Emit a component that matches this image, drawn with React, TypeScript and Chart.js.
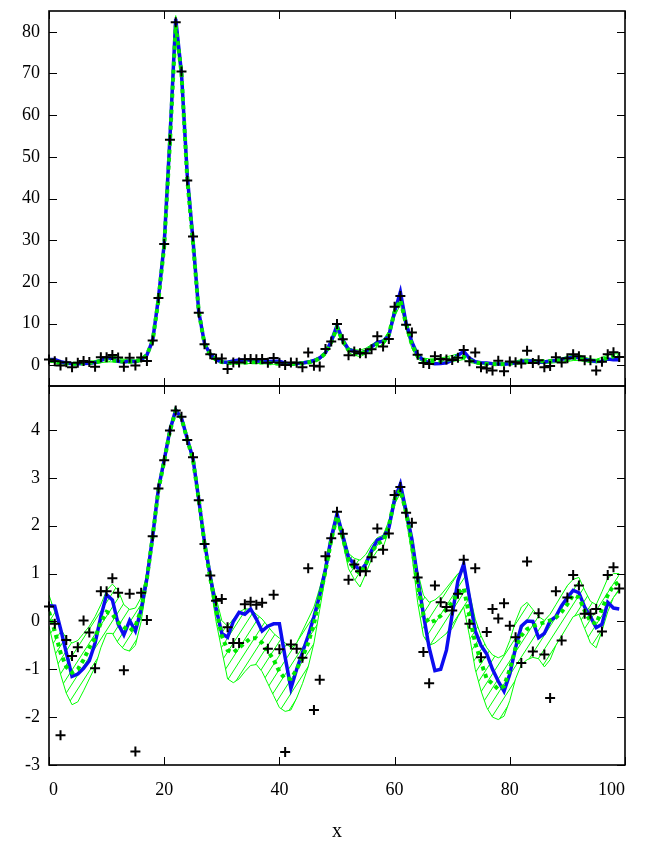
import React, { useEffect, useRef } from "react";
import { Chart, registerables } from "chart.js";
Chart.register(...registerables);

// ---------- data ----------
const X = [0,1,2,3,4,5,6,7,8,9,10,11,12,13,14,15,16,17,18,19,20,21,22,23,24,25,26,27,28,29,30,31,32,33,34,35,36,37,38,39,40,41,42,43,44,45,46,47,48,49,50,51,52,53,54,55,56,57,58,59,60,61,62,63,64,65,66,67,68,69,70,71,72,73,74,75,76,77,78,79,80,81,82,83,84,85,86,87,88,89,90,91,92,93,94,95,96,97,98,99];
const X_TICKS = [0, 20, 40, 60, 80, 100];
const TOP_Y_TICKS = [0, 10, 20, 30, 40, 50, 60, 70, 80];
const BOT_Y_TICKS = [-3, -2, -1, 0, 1, 2, 3, 4];

// top panel (linear)
const TOP_POINTS = [1.36,0.95,-0.09,0.68,-0.49,0.58,1.02,0.79,-0.38,1.88, 1.88,2.46,1.82,-0.36,1.79,-0.07,1.82,1.03,5.93,16.1, 29.1,54.1,82.3,70.5,44.3,30.9,12.6,5.05,2.61,1.54, 1.6,-0.89,0.64,0.64,1.43,1.51,1.42,1.48,0.57,1.75, 0.56,0.07,0.62,0.57,-0.47,3.03,-0.16,-0.3,3.9,5.7, 9.87,6.23,2.39,3.29,2.86,2.86,3.82,6.96,4.48,6.3, 14.0,16.6,9.68,7.85,2.51,0.53,0.28,2.12,1.49,1.35, 1.26,1.79,3.63,0.95,3.03,-0.47,-0.8,-1.3,1.06,-1.46, 0.91,0.72,0.42,3.49,0.53,1.19,-0.5,-0.2,1.88,0.67, 1.65,2.64,2.12,1.17,1.17,-1.3,0.81,2.64,3.1,1.99];
const TOP_BLUE = [1.39,1.38,0.86,0.52,0.32,0.33,0.38,0.44,0.64,1.11, 1.75,1.57,0.95,0.76,1.02,0.82,1.28,2.46,5.93,16.1, 29.1,54.6,83.1,70.1,45.6,30.0,12.8,5.21,2.59,1.31, 0.78,0.72,1.0,1.21,1.16,1.3,1.05,0.82,0.9,0.95, 0.95,0.47,0.25,0.37,0.52,0.74,1.11,1.73,3.0,5.75, 9.49,6.05,3.78,3.32,2.86,3.32,4.39,5.47,5.75,7.03, 12.8,17.6,9.97,5.58,2.46,1.16,0.58,0.36,0.37,0.55, 1.16,2.34,3.32,1.65,0.82,0.61,0.51,0.37,0.29,0.23, 0.33,0.58,0.9,1.01,1.0,0.71,0.78,1.01,1.11,1.39, 1.65,1.92,1.82,1.35,1.11,0.88,0.94,1.49,1.32,1.3];
const TOP_GREEN = [1.22,0.82,0.52,0.39,0.34,0.37,0.45,0.58,0.71,0.97, 1.22,1.16,0.98,0.89,0.82,0.9,1.28,2.46,5.93,15.6, 28.5,53.5,81.5,70.1,44.7,29.4,12.8,5.05,2.46,1.28, 0.74,0.55,0.52,0.58,0.64,0.7,0.7,0.64,0.54,0.45, 0.35,0.3,0.3,0.37,0.47,0.64,0.95,1.65,2.86,5.47, 9.03,5.75,3.6,3.0,2.72,3.32,4.26,5.05,5.37,7.39, 12.8,15.6,9.78,4.95,2.12,1.16,0.97,1.02,1.13,1.28, 1.49,1.82,2.01,1.11,0.64,0.43,0.3,0.27,0.24,0.26, 0.37,0.58,0.74,0.85,0.9,0.94,0.98,1.02,1.08,1.22, 1.43,1.73,1.65,1.25,1.0,0.95,1.28,1.73,2.12,2.29];
const TOP_UPPER = [1.73,1.22,0.86,0.7,0.64,0.67,0.78,0.9,1.11,1.42, 1.92,2.18,1.92,1.42,1.28,1.32,1.65,2.72,6.17,16.4, 30.0,55.7,83.9,72.2,46.5,30.6,13.5,5.47,2.72,1.65, 1.02,0.9,1.05,1.22,1.3,1.3,1.16,1.05,0.9,0.78, 0.7,0.64,0.58,0.64,0.82,1.05,1.35,2.01,3.16,5.93, 9.97,6.36,4.14,3.74,3.6,4.06,4.95,5.75,6.05,8.17, 14.2,16.8,11.0,5.75,2.86,1.73,1.49,1.57,1.73,2.01, 2.34,2.72,2.86,1.82,1.05,0.74,0.58,0.5,0.47,0.5, 0.67,1.0,1.35,1.49,1.28,1.11,1.02,1.16,1.42,1.73, 2.12,2.41,2.51,1.92,1.52,1.42,1.86,2.46,2.72,2.72];
const TOP_LOWER = [0.9,0.55,0.33,0.22,0.18,0.19,0.23,0.3,0.39,0.58, 0.78,0.78,0.64,0.56,0.54,0.61,1.0,2.23,5.7,14.9, 27.1,51.4,79.0,68.0,42.9,27.9,12.2,4.71,2.23,1.0, 0.55,0.3,0.28,0.3,0.35,0.4,0.41,0.35,0.27,0.21, 0.17,0.15,0.16,0.2,0.27,0.39,0.64,1.28,2.59,5.05, 8.17,5.21,3.0,2.41,2.05,2.72,3.67,4.39,4.71,6.69, 11.6,14.6,8.58,4.06,1.49,0.74,0.61,0.64,0.7,0.78, 0.86,1.11,1.35,0.74,0.37,0.23,0.17,0.14,0.13,0.14, 0.19,0.3,0.41,0.45,0.47,0.46,0.39,0.45,0.61,0.74, 0.9,1.11,1.16,0.86,0.64,0.58,0.82,1.22,1.65,1.92];

// bottom panel (log)
const BOT_POINTS = [0.31,-0.05,-2.38,-0.39,-0.72,-0.54,0.02,-0.23,-0.98,0.63, 0.63,0.9,0.6,-1.02,0.58,-2.72,0.6,0.03,1.78,2.78, 3.37,3.99,4.41,4.28,3.79,3.43,2.53,1.62,0.96,0.43, 0.47,-0.12,-0.45,-0.45,0.36,0.41,0.35,0.39,-0.57,0.56, -0.58,-2.73,-0.48,-0.57,-0.76,1.11,-1.85,-1.22,1.36,1.74, 2.29,1.83,0.87,1.19,1.05,1.05,1.34,1.94,1.5,1.84, 2.64,2.81,2.27,2.06,0.92,-0.64,-1.29,0.75,0.4,0.3, 0.23,0.58,1.29,-0.05,1.11,-0.75,-0.22,0.26,0.06,0.38, -0.09,-0.33,-0.87,1.25,-0.63,0.17,-0.69,-1.6,0.63,-0.4, 0.5,0.97,0.75,0.16,0.16,0.26,-0.21,0.97,1.13,0.69];
const BOT_BLUE = [0.33,0.32,-0.15,-0.65,-1.15,-1.1,-0.98,-0.82,-0.45,0.1, 0.56,0.45,-0.05,-0.28,0.02,-0.2,0.25,0.9,1.78,2.78, 3.37,4.0,4.42,4.25,3.82,3.4,2.55,1.65,0.95,0.27, -0.25,-0.33,0.0,0.19,0.15,0.26,0.05,-0.2,-0.1,-0.05, -0.05,-0.75,-1.4,-1.0,-0.65,-0.3,0.1,0.55,1.1,1.75, 2.25,1.8,1.33,1.2,1.05,1.2,1.48,1.7,1.75,1.95, 2.55,2.87,2.3,1.72,0.9,0.15,-0.55,-1.03,-1.0,-0.6, 0.15,0.85,1.2,0.5,-0.2,-0.5,-0.68,-1.0,-1.25,-1.46, -1.1,-0.55,-0.1,0.01,0.0,-0.34,-0.25,0.01,0.1,0.33, 0.5,0.65,0.6,0.3,0.1,-0.13,-0.06,0.4,0.28,0.26];
const BOT_GREEN = [0.2,-0.2,-0.65,-0.95,-1.07,-1.0,-0.8,-0.55,-0.34,-0.03, 0.2,0.15,-0.02,-0.12,-0.2,-0.1,0.25,0.9,1.78,2.75, 3.35,3.98,4.4,4.25,3.8,3.38,2.55,1.62,0.9,0.25, -0.3,-0.6,-0.65,-0.55,-0.45,-0.35,-0.35,-0.45,-0.62,-0.8, -1.05,-1.2,-1.2,-1.0,-0.75,-0.45,-0.05,0.5,1.05,1.7, 2.2,1.75,1.28,1.1,1.0,1.2,1.45,1.62,1.68,2.0, 2.55,2.75,2.28,1.6,0.75,0.15,-0.03,0.02,0.12,0.25, 0.4,0.6,0.7,0.1,-0.45,-0.85,-1.2,-1.3,-1.42,-1.35, -1.0,-0.55,-0.3,-0.16,-0.1,-0.06,-0.02,0.02,0.08,0.2, 0.36,0.55,0.5,0.22,0.0,-0.05,0.25,0.55,0.75,0.83];
const BOT_UPPER = [0.55,0.2,-0.15,-0.35,-0.45,-0.4,-0.25,-0.1,0.1,0.35, 0.65,0.78,0.65,0.35,0.25,0.28,0.5,1.0,1.82,2.8, 3.4,4.02,4.43,4.28,3.84,3.42,2.6,1.7,1.0,0.5, 0.02,-0.1,0.05,0.2,0.26,0.26,0.15,0.05,-0.1,-0.25, -0.35,-0.45,-0.55,-0.45,-0.2,0.05,0.3,0.7,1.15,1.78, 2.3,1.85,1.42,1.32,1.28,1.4,1.6,1.75,1.8,2.1, 2.65,2.82,2.4,1.75,1.05,0.55,0.4,0.45,0.55,0.7, 0.85,1.0,1.05,0.6,0.05,-0.3,-0.55,-0.7,-0.76,-0.7, -0.4,0.0,0.3,0.4,0.25,0.1,0.02,0.15,0.35,0.55, 0.75,0.88,0.92,0.65,0.42,0.35,0.62,0.9,1.0,1.0];
const BOT_LOWER = [-0.1,-0.6,-1.1,-1.5,-1.74,-1.68,-1.45,-1.2,-0.95,-0.55, -0.25,-0.25,-0.45,-0.58,-0.62,-0.5,0.0,0.8,1.74,2.7, 3.3,3.94,4.37,4.22,3.76,3.33,2.5,1.55,0.8,0.0, -0.6,-1.2,-1.28,-1.2,-1.05,-0.92,-0.9,-1.05,-1.3,-1.55, -1.8,-1.88,-1.85,-1.6,-1.3,-0.95,-0.45,0.25,0.95,1.62, 2.1,1.65,1.1,0.88,0.72,1.0,1.3,1.48,1.55,1.9, 2.45,2.68,2.15,1.4,0.4,-0.3,-0.5,-0.45,-0.35,-0.25, -0.15,0.1,0.3,-0.3,-1.0,-1.45,-1.8,-2.0,-2.05,-1.98, -1.65,-1.2,-0.9,-0.8,-0.75,-0.78,-0.95,-0.8,-0.5,-0.3, -0.1,0.1,0.15,-0.15,-0.45,-0.55,-0.2,0.2,0.5,0.65];

// ---------- styling ----------
const FONT = "'Liberation Serif', 'DejaVu Serif', serif";
const BLUE = "#0c0cf0";
const GREEN_DOT = "#00e800";
const GREEN_THIN = "#00ff00";

const xy = (ys: number[]) => ys.map((y, i) => ({ x: X[i], y }));

function makeHatch(): CanvasPattern | string {
  const c = document.createElement("canvas");
  c.width = 9;
  c.height = 14;
  const g = c.getContext("2d");
  if (!g) return "rgba(0,0,0,0)";
  g.strokeStyle = GREEN_THIN;
  g.lineWidth = 1;
  g.beginPath();
  g.moveTo(-9, 14); g.lineTo(0, 0);
  g.moveTo(0, 14); g.lineTo(9, 0);
  g.moveTo(9, 14); g.lineTo(18, 0);
  g.stroke();
  return g.createPattern(c, "repeat") || "rgba(0,0,0,0)";
}

const framePlugin = {
  id: "frameTicks",
  afterDraw(chart: any, _args: any, opts: any) {
    const { ctx, chartArea: a, scales } = chart;
    const xs = scales.x, ys = scales.y;
    ctx.save();
    ctx.strokeStyle = "#000";
    ctx.lineWidth = 1;
    const L = 8;
    ctx.beginPath();
    for (const v of opts.xTicks) {
      const px = Math.round(xs.getPixelForValue(v)) + 0.5;
      ctx.moveTo(px, a.bottom); ctx.lineTo(px, a.bottom - L);
      ctx.moveTo(px, a.top); ctx.lineTo(px, a.top + L);
    }
    for (const v of opts.yTicks) {
      const py = Math.round(ys.getPixelForValue(v)) + 0.5;
      ctx.moveTo(a.left, py); ctx.lineTo(a.left + L, py);
      ctx.moveTo(a.right, py); ctx.lineTo(a.right - L, py);
    }
    ctx.stroke();
    ctx.lineWidth = 1.6;
    ctx.strokeRect(a.left, a.top, a.right - a.left, a.bottom - a.top);
    ctx.restore();
  },
};

function makeDatasets(pts: number[], blue: number[], green: number[], up: number[], lo: number[], hatch: any) {
  return [
    { data: xy(pts), showLine: false, pointStyle: "cross", pointRadius: 5, pointBorderWidth: 2, borderColor: "#000", backgroundColor: "#000", pointBorderColor: "#000", order: 0, clip: false },
    { data: xy(green), borderColor: GREEN_DOT, borderWidth: 4, borderDash: [4, 4], pointRadius: 0, fill: false, order: 1 },
    { data: xy(blue), borderColor: BLUE, borderWidth: 3.5, pointRadius: 0, fill: false, order: 2 },
    { data: xy(up), borderColor: GREEN_THIN, borderWidth: 1, pointRadius: 0, fill: false, order: 4 },
    { data: xy(lo), borderColor: GREEN_THIN, borderWidth: 1, pointRadius: 0, fill: "-1", backgroundColor: hatch, order: 3 },
  ];
}

function baseOptions(yMin: number, yMax: number, yTicks: number[], showX: boolean, padding: any, xHeight: number) {
  return {
    responsive: false,
    animation: false,
    events: [],
    layout: { padding },
    plugins: {
      legend: { display: false },
      tooltip: { enabled: false },
      frameTicks: { xTicks: X_TICKS, yTicks },
    },
    elements: { line: { tension: 0 } },
    scales: {
      x: {
        type: "linear",
        min: 0,
        max: 100,
        grid: { display: false, drawTicks: false },
        border: { display: false },
        afterBuildTicks: (s: any) => { s.ticks = X_TICKS.map((v) => ({ value: v })); },
        afterFit: (s: any) => {
          s.height = xHeight;
          s.paddingLeft = 0; s.paddingRight = 0; s.paddingTop = 0; s.paddingBottom = 0;
        },
        ticks: {
          display: showX,
          align: "inner",
          padding: 14,
          color: "#000",
          font: { family: FONT, size: 18 },
          callback: (v: any) => String(v),
          maxRotation: 0,
        },
        title: {
          display: showX,
          text: "x",
          color: "#000",
          font: { family: FONT, size: 20 },
          padding: { top: 0, bottom: 0 },
        },
      },
      y: {
        type: "linear",
        min: yMin,
        max: yMax,
        grid: { display: false, drawTicks: false },
        border: { display: false },
        afterBuildTicks: (s: any) => { s.ticks = yTicks.map((v) => ({ value: v })); },
        afterFit: (s: any) => {
          s.width = 49;
          s.paddingLeft = 0; s.paddingRight = 0; s.paddingTop = 0; s.paddingBottom = 0;
        },
        ticks: {
          padding: 9,
          color: "#000",
          font: { family: FONT, size: 18 },
          callback: (v: any) => String(v),
        },
      },
    },
  };
}

export default function App() {
  const topRef = useRef<HTMLCanvasElement | null>(null);
  const botRef = useRef<HTMLCanvasElement | null>(null);

  useEffect(() => {
    if (!topRef.current || !botRef.current) return;
    const hatch = makeHatch();
    const top = new Chart(topRef.current, {
      type: "line",
      data: { datasets: makeDatasets(TOP_POINTS, TOP_BLUE, TOP_GREEN, TOP_UPPER, TOP_LOWER, hatch) as any },
      options: baseOptions(-5, 85, TOP_Y_TICKS, false, { top: 11, left: 0, right: 22, bottom: 14 }, 0) as any,
      plugins: [framePlugin as any],
    });
    const bot = new Chart(botRef.current, {
      type: "line",
      data: { datasets: makeDatasets(BOT_POINTS, BOT_BLUE, BOT_GREEN, BOT_UPPER, BOT_LOWER, hatch) as any },
      options: baseOptions(-3, 4.92, BOT_Y_TICKS, true, { top: 10, left: 0, right: 22, bottom: 0 }, 79) as any,
      plugins: [framePlugin as any],
    });
    return () => {
      top.destroy();
      bot.destroy();
    };
  }, []);

  return (
    <div style={{ position: "absolute", left: 0, top: 0, width: 647, height: 844, background: "#fff", overflow: "hidden" }}>
      <canvas ref={topRef} width={647} height={400} style={{ position: "absolute", left: 0, top: 0, width: 647, height: 400 }} />
      <canvas ref={botRef} width={647} height={468} style={{ position: "absolute", left: 0, top: 376, width: 647, height: 468 }} />
    </div>
  );
}
